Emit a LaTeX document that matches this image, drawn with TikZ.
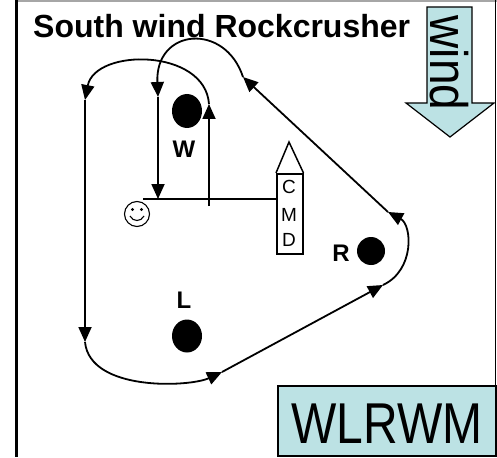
\documentclass[tikz,border=0pt]{standalone}
\usepackage{fontspec}
\setmainfont{Liberation Sans}
\usetikzlibrary{arrows.meta,shapes.geometric}
\definecolor{windblue}{RGB}{188,226,228}
\begin{document}
\begin{tikzpicture}[x=1pt,y=-1pt,
  route/.style={line width=1.8pt,-{Triangle[length=15pt,width=13pt]}},
  spot/.style={ellipse,fill=black,inner sep=0pt},
  lbl/.style={font=\fontsize{24}{24}\selectfont\bfseries,inner sep=0pt},
  cmdletter/.style={font=\fontsize{19}{19}\selectfont,inner sep=0pt}]
\useasboundingbox (0,0) rectangle (497,457);
% frame
\draw[line width=2pt,gray!70] (16,1) -- (497,1);
\draw[line width=3pt] (16,0) -- (16,457);
\draw[line width=1.5pt] (495.5,0) -- (495.5,385);
% title
\node[anchor=base west,inner sep=0pt,font=\fontsize{32}{32}\selectfont\bfseries] (title) at (33,38) {South wind Rockcrusher};
% wind arrow
\draw[line width=1.2pt,fill=windblue] (427,7) -- (472,7) -- (472,103) -- (494,103) -- (450,137) -- (406,103) -- (427,103) -- cycle;
\node[rotate=-90,inner sep=0pt] (wind) at (449,63) {\scalebox{1}[1.15]{\fontsize{46}{46}\selectfont wind}};
% spots
\node[spot,minimum width=30pt,minimum height=34pt] (W) at (187,111) {};
\node[spot,minimum width=30pt,minimum height=33pt] (L) at (187,336) {};
\node[spot,minimum width=28pt,minimum height=28pt] (R) at (371,251) {};
\node[lbl] (Wl) at (184,149) {W};
\node[lbl] (Ll) at (184,300) {L};
\node[lbl] (Rl) at (341,253) {R};
% smiley
\node[circle,draw,line width=1.1pt,minimum size=25pt,inner sep=0pt] (me) at (137,214) {};
\fill (132.5,209.5) circle (1.6pt) (141.5,209.5) circle (1.6pt);
\draw[line width=1.1pt] (130,216) .. controls (133,222) and (141,222) .. (144,216);
% CMD
\node[draw,line width=1.5pt,minimum width=26pt,minimum height=80pt,inner sep=0pt,anchor=north west] (cmd) at (276,173) {};
\draw[line width=1.5pt] (cmd.north west) -- (289,142) -- (cmd.north east);
\node[cmdletter] (c1) at (289,187) {C};
\node[cmdletter] (c2) at (289,215) {M};
\node[cmdletter] (c3) at (289,240) {D};
% route points
\coordinate (m0) at (143,199);
\coordinate (p0) at (209,206);
\coordinate (p1) at (209,104);
\coordinate (p2) at (85,100);
\coordinate (p3) at (85,342);
\coordinate (p4) at (222,372);
\coordinate (p5) at (383,285);
\coordinate (p6) at (388,212);
\coordinate (p7) at (243,77);
\coordinate (p8) at (158,97);
\coordinate (p9) at (158,199);
\draw[line width=1.6pt] (m0) -- (cmd.west |- m0);
\draw[route] (p0) -- (p1);
\draw[route] (p1) .. controls (205,48) and (95,48) .. (p2);
\draw[route] (p2) -- (p3);
\draw[route] (p3) .. controls (90,392) and (190,387) .. (p4);
\draw[route] (p4) -- (p5);
\draw[route] (p5) .. controls (415,270) and (412,225) .. (p6);
\draw[route] (p6) -- (p7);
\draw[route] (p7) .. controls (225,22) and (155,28) .. (p8);
\draw[route] (p8) -- (p9);
% answer box
\node[draw,line width=1.5pt,fill=windblue,anchor=north west,minimum width=218pt,minimum height=70pt,inner sep=0pt] (ans) at (277,385) {};
\node[inner sep=0pt] (anstext) at (387,424) {\scalebox{1}[1.2]{\fontsize{48}{48}\selectfont WLRWM}};
\end{tikzpicture}
\end{document}
